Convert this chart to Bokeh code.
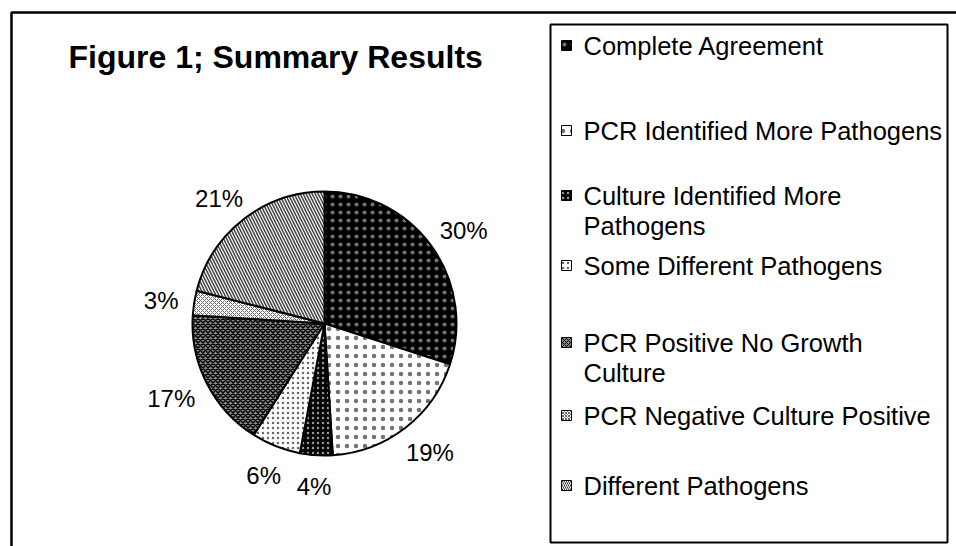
import math
import textwrap
from bokeh.plotting import figure
from bokeh.models import Range1d, ColumnDataSource
from bokeh.core.properties import value
from bokeh.embed import file_html
from bokeh.resources import INLINE

# ---------------- data ----------------
title = "Figure 1; Summary Results"
categories = [
    "Complete Agreement",
    "PCR Identified More Pathogens",
    "Culture Identified More Pathogens",
    "Some Different Pathogens",
    "PCR Positive No Growth Culture",
    "PCR Negative Culture Positive",
    "Different Pathogens",
]
percent = [30, 19, 4, 6, 17, 3, 21]

# ---------------- styles ----------------
fills = ["black", "white", "black", "white", "#8a8a8a", "white", "white"]
hatches = ["dot", "dot", "dot", "dot", "diagonal_cross", "diagonal_cross", "left_diagonal_line"]
hatch_colors = ["white", "black", "white", "black", "black", "#6a6a6a", "#404040"]
hatch_alphas = [0.45, 0.55, 0.6, 0.6, 1.0, 1.0, 1.0]
hatch_scales = [8, 9, 5, 5, 5, 4, 6]
hatch_weights = [0.2, 0.2, 0.2, 0.2, 1.5, 1.0, 1.5]

FONT = value("Liberation Sans")
W, H = 956, 546


def px(X):
    return X


def py(Y):
    return H - Y


p = figure(width=W, height=H, x_range=Range1d(0, W), y_range=Range1d(0, H),
           output_backend="svg", toolbar_location=None, min_border=0)
p.axis.visible = False
p.grid.visible = False
p.outline_line_color = None
p.background_fill_color = "white"
p.border_fill_color = "white"

# outer frame (top and left edges visible)
p.line([px(11), px(11), px(970)], [py(570), py(12), py(12)], line_color="black", line_width=2.5)

# ---------------- pie ----------------
CX, CY, R = px(324), py(323), 132
total = float(sum(percent))
starts, ends, mids = [], [], []
acc = 0.0
for v in percent:
    a0 = math.pi / 2 - 2 * math.pi * acc / total
    acc += v
    a1 = math.pi / 2 - 2 * math.pi * acc / total
    starts.append(a0)
    ends.append(a1)
    mids.append((a0 + a1) / 2)

src = ColumnDataSource(dict(start=starts, end=ends, fill=fills, hatch=hatches, hcol=hatch_colors,
                            halpha=hatch_alphas, hscale=hatch_scales, hw=hatch_weights))
p.wedge(x=CX, y=CY, radius=R, start_angle="start", end_angle="end", direction="clock",
        source=src, fill_color="fill", hatch_pattern="hatch", hatch_color="hcol",
        hatch_alpha="halpha", hatch_scale="hscale", hatch_weight="hw",
        line_color="black", line_width=2)

# data labels: box placed just outside the rim along each slice's mid-angle
FS = 24
GAP_R = 148
labels = [f"{v}%" for v in percent]
lx, ly = [], []
for lab, m in zip(labels, mids):
    half_w = 0.5 * FS * (0.556 * (len(lab) - 1) + 0.889)
    half_h = 13
    ux, uy = math.cos(m), math.sin(m)
    lx.append(CX + GAP_R * ux + half_w * ux)
    ly.append(CY + GAP_R * uy + half_h * uy - 2)
p.text(x=lx, y=ly, text=labels, text_font=FONT, text_font_size=value(f"{FS}px"),
       text_align="center", text_baseline="alphabetic", text_color="black")

# ---------------- title ----------------
p.text(x=[px(68)], y=[py(56)], text=[title], text_font=FONT, text_font_size=value("32px"),
       text_font_style="bold", text_align="left", text_baseline="alphabetic", text_color="black")

# ---------------- legend ----------------
p.quad(left=[px(550)], right=[px(947)], top=[py(24)], bottom=[py(542)],
       fill_color="white", line_color="black", line_width=2)

row_y = [45, 130, 195, 265, 342, 415, 485]  # centers of first text lines (page px)
LFS = 25.5
LINE_H = 30
tx, ty, tt = [], [], []
for name, yc in zip(categories, row_y):
    for k, line in enumerate(textwrap.wrap(name, 29)):
        tx.append(px(583))
        ty.append(py(yc + k * LINE_H))
        tt.append(line)

msrc = ColumnDataSource(dict(x=[px(566)] * len(row_y), y=[py(v) for v in row_y], fill=fills,
                             hatch=hatches, hcol=hatch_colors, halpha=hatch_alphas,
                             hscale=[8, 9, 5, 5, 4, 3, 4],
                             hw=[0.2, 0.2, 0.2, 0.2, 1.0, 1.0, 1.0]))
p.rect(x="x", y="y", width=10, height=10, source=msrc, fill_color="fill", hatch_pattern="hatch",
       hatch_color="hcol", hatch_alpha="halpha", hatch_scale="hscale", hatch_weight="hw",
       line_color="black", line_width=1)
p.text(x=tx, y=ty, text=tt, text_font=FONT, text_font_size=value(f"{LFS}px"),
       text_align="left", text_baseline="alphabetic", text_color="black")

open("out.html", "w").write(file_html(p, INLINE))
